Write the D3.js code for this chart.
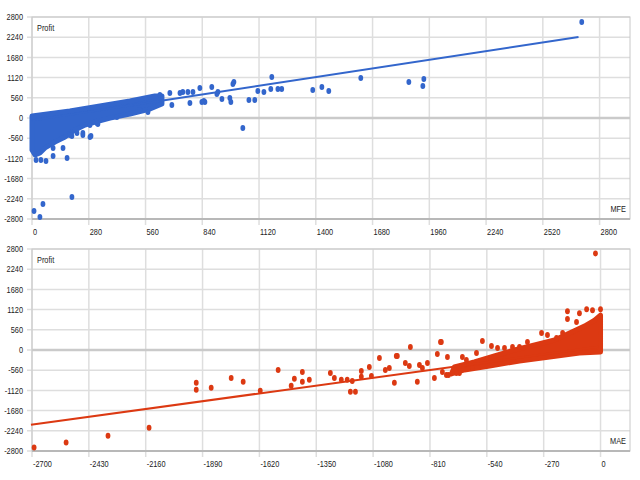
<!DOCTYPE html>
<html>
<head>
<meta charset="utf-8">
<script src="https://cdnjs.cloudflare.com/ajax/libs/d3/7.8.5/d3.min.js"></script>
<style>
  body { margin: 0; background: #fff; }
  text { font-family: "Liberation Sans", Arial, sans-serif; font-size: 9px; fill: #222; }
</style>
</head>
<body>
<div id="chart"></div>
<script>

// tick labels
const profitTicks = [-2800, -2240, -1680, -1120, -560, 0, 560, 1120, 1680, 2240, 2800];
const mfeTicks = [0, 280, 560, 840, 1120, 1400, 1680, 1960, 2240, 2520, 2800];
const maeTicks = [-2700, -2430, -2160, -1890, -1620, -1350, -1080, -810, -540, -270, 0];

// MFE vs profit: dense band of trades (outline) and the separate trades
const mfeCloud = [
  [0, 55], [187, 194], [335, 332], [483, 471], [606, 609], [641, 609],
  [641, 388], [582, 249], [483, 111], [385, 0], [311, -111], [261, -194],
  [212, -332], [163, -526], [113, -665], [64, -831], [39, -970], [15, -1025], [0, -886]
];
const mfePoints = [
  [10, -2576], [39, -2742], [54, -2382], [197, -2188],
  [20, -1163], [44, -1163], [69, -1191], [104, -1053], [173, -1108],
  [153, -831], [104, -831], [197, -499], [251, -416], [286, -194], [291, -499], [320, -139],
  [222, -416], [251, -471], [286, -526], [325, -166], [187, -471],
  [419, 28], [572, 166], [532, 222],
  [631, 637], [680, 693], [690, 360], [730, 693], [744, 720], [769, 720], [779, 416],
  [794, 720], [828, 831], [838, 443], [853, 443], [887, 859], [917, 720], [848, 471],
  [912, 665], [937, 526], [976, 554], [981, 443], [991, 942], [996, 997], [1040, -277],
  [1070, 499], [1099, 499], [1114, 748], [1144, 720], [1178, 803], [1183, 1136],
  [1213, 803], [1232, 803], [1385, 776], [1430, 859], [1464, 748], [1622, 1108],
  [1859, 997], [1928, 886], [1933, 1080], [2712, 2659]
];
const mfeTrend = [[0, -70], [2696, 2245]];

// MAE vs profit
const maeCloud = [
  [-708, -662], [-694, -469], [-599, -331], [-504, -166], [-409, 0], [-313, 138],
  [-218, 276], [-147, 469], [-76, 662], [-28, 828], [0, 966], [0, -55],
  [-100, -83], [-242, -193], [-385, -304], [-527, -442], [-646, -552]
];
const maePoints = [
  [-24, 2677], [-157, 1076], [-157, 856], [-100, 1021], [-66, 1132], [-38, 1104], [0, 1132],
  [-114, 773], [-280, 469], [-252, 414], [-209, 331], [-180, 469], [-561, 248], [-518, 110],
  [-489, 55], [-456, 55], [-385, 83], [-347, 221], [-589, -83], [-656, -193], [-756, 221],
  [-732, -690], [-670, -635],
  [-1416, -607], [-1416, -883], [-1383, -828], [-1283, -635], [-1264, -773], [-1136, -580],
  [-1098, -469], [-1050, -221], [-970, -166], [-903, 83], [-927, -359], [-979, -911],
  [-870, -883], [-822, -359], [-775, -110], [-760, 221], [-727, -193], [-789, -773],
  [-418, 83],
  [-1920, -911], [-1920, -1104], [-1849, -1049], [-1754, -773], [-1697, -883], [-1616, -1132],
  [-1531, -552], [-1469, -994], [-1454, -800], [-1188, -1159], [-1164, -1159], [-965, -166],
  [-2690, -2705], [-2538, -2567], [-2339, -2374], [-2144, -2153],
  [-1231, -828], [-1203, -828], [-1179, -856], [-1136, -745], [-1088, -718], [-1022, -552],
  [-1003, -497], [-908, -442], [-860, -414], [-846, -497], [-751, -607], [-722, -690],
  [-684, -635], [-637, -276], [-608, -497]
];
const maeTrend = [[-2705, -2075], [-10, 90]];

const W = 640, H = 480;
const left = 32, right = 630;

const svg = d3.select("#chart")
  .append("svg")
    .attr("width", W)
    .attr("height", H);

// narrow labels: squeeze the text horizontally
function label(sel, anchor) {
  return sel.append("text")
    .attr("text-anchor", anchor || "start")
    .attr("dy", "0.35em");
}
const squeeze = (x, y) => `translate(${x},${y}) scale(0.82,1)`;

function panel(p) {
  const x = d3.scaleLinear().domain(p.xDomain).range([left, right]);
  const y = d3.scaleLinear().domain([-2800, 2800]).range([p.bottom, p.top]);
  const g = svg.append("g");

  // grid
  g.selectAll(".hg").data(profitTicks).enter().append("line")
    .attr("x1", left - 5).attr("x2", right)
    .attr("y1", d => y(d)).attr("y2", d => y(d))
    .attr("stroke", "#dedede").attr("stroke-width", 1.5);

  g.selectAll(".vg").data(p.xTicks).enter().append("line")
    .attr("x1", d => x(d)).attr("x2", d => x(d))
    .attr("y1", p.top).attr("y2", p.bottom + 6)
    .attr("stroke", "#dedede").attr("stroke-width", 1.5);

  g.append("rect")
    .attr("x", left).attr("y", p.top)
    .attr("width", right - left).attr("height", p.bottom - p.top)
    .attr("fill", "none").attr("stroke", "#c8c8c8");

  g.append("line")
    .attr("x1", left).attr("x2", right)
    .attr("y1", y(0)).attr("y2", y(0))
    .attr("stroke", "#cacaca").attr("stroke-width", 2.5);

  g.append("line")
    .attr("x1", left).attr("x2", right)
    .attr("y1", p.bottom).attr("y2", p.bottom)
    .attr("stroke", "#b8b8b8").attr("stroke-width", 2);

  // tick labels
  profitTicks.forEach(d => {
    label(g, "end").attr("transform", squeeze(left - 9, y(d))).text(d);
  });
  p.xTicks.forEach(d => {
    label(g).attr("transform", squeeze(x(d) + 1, p.bottom + 13)).text(d);
  });

  // trades
  const outline = d3.line()
    .x(d => x(d[0]))
    .y(d => y(d[1]))
    .curve(d3.curveLinearClosed);

  g.append("path")
    .datum(p.cloud)
    .attr("d", outline)
    .attr("fill", p.color)
    .attr("stroke", p.color)
    .attr("stroke-width", 5)
    .attr("stroke-linejoin", "round");

  g.selectAll(".pt").data(p.points).enter().append("ellipse")
    .attr("cx", d => x(d[0]))
    .attr("cy", d => y(d[1]))
    .attr("rx", 2.4).attr("ry", 3)
    .attr("fill", p.color);

  g.append("path")
    .datum(p.trend)
    .attr("d", d3.line().x(d => x(d[0])).y(d => y(d[1])))
    .attr("fill", "none")
    .attr("stroke", p.color)
    .attr("stroke-width", 2);

  label(g).attr("transform", squeeze(left + 5, p.top + 11)).text("Profit");
  label(g, "end").attr("transform", squeeze(right - 4, p.bottom - 10)).text(p.xLabel);
}

panel({
  top: 17, bottom: 219,
  xDomain: [0, 2950], xTicks: mfeTicks,
  cloud: mfeCloud, points: mfePoints, trend: mfeTrend,
  color: "#3366cc", xLabel: "MFE"
});

panel({
  top: 249, bottom: 451,
  xDomain: [-2700, 140], xTicks: maeTicks,
  cloud: maeCloud, points: maePoints, trend: maeTrend,
  color: "#dc3912", xLabel: "MAE"
});

</script>
</body>
</html>
